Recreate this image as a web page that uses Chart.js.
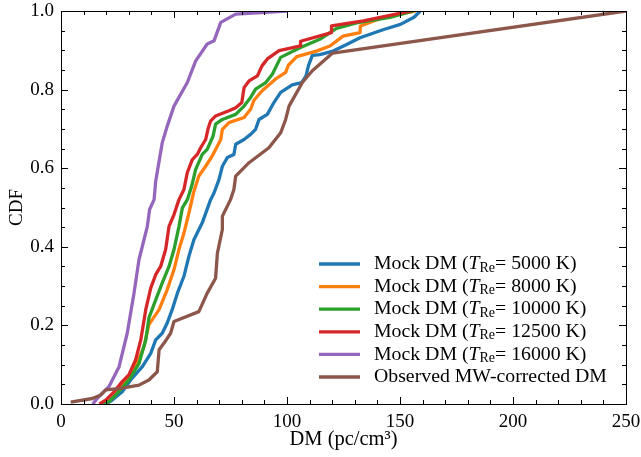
<!DOCTYPE html>
<html>
<head>
<meta charset="utf-8">
<script src="https://cdn.jsdelivr.net/npm/chart.js"></script>
<style>
  html, body { margin: 0; padding: 0; background: #fff; }
</style>
</head>
<body>
<canvas id="cdfChart" width="641" height="457"></canvas>
<script>
// values (DM in pc/cm^3, cumulative fraction)
const dm5000  = [20, 22.7, 27.1, 30.8, 36, 39.7, 41.9, 44.8, 47, 49.2, 51.5, 54.4, 56.6, 58.8, 62.5, 66.2, 67.7, 69.9, 71.4, 73.6, 76.5, 77.3, 81, 83.9, 86.1, 87.6, 91.3, 94.2, 97.2, 102.3, 106.5, 108.4, 109.5, 111.2, 114.5, 120.4, 126.4, 132.3, 142.8, 150.2, 156.2, 159];
const cdf5000 = [0, 0.010, 0.031, 0.061, 0.095, 0.129, 0.163, 0.180, 0.206, 0.240, 0.282, 0.325, 0.376, 0.418, 0.461, 0.520, 0.537, 0.571, 0.605, 0.627, 0.635, 0.661, 0.673, 0.686, 0.699, 0.724, 0.737, 0.767, 0.793, 0.812, 0.818, 0.835, 0.861, 0.887, 0.889, 0.898, 0.915, 0.932, 0.953, 0.966, 0.984, 1.0];

const dm8000  = [19, 20.9, 23.5, 28.6, 33, 36.7, 38.9, 43.4, 47, 50, 52.2, 54.4, 56.6, 58.8, 61, 64, 66.9, 70.7, 71.4, 74.3, 81, 83.9, 85.4, 89, 95, 99.4, 100.6, 104.3, 113, 119, 124.8, 132.3, 132.5, 142.8, 157];
const cdf8000 = [0, 0.006, 0.019, 0.057, 0.095, 0.146, 0.202, 0.240, 0.291, 0.342, 0.393, 0.435, 0.486, 0.541, 0.580, 0.605, 0.631, 0.673, 0.699, 0.716, 0.729, 0.750, 0.773, 0.797, 0.827, 0.844, 0.862, 0.884, 0.898, 0.911, 0.936, 0.945, 0.962, 0.984, 1.0];

const dm10000  = [18, 21.2, 24.9, 30, 34.5, 37.5, 38.9, 41.9, 44.8, 47.8, 50, 52.2, 53.7, 55.9, 57.8, 59.6, 62.5, 64.7, 67.3, 68.4, 71.4, 77.3, 81, 83.9, 86.1, 90.6, 93.5, 97.2, 105.5, 114.5, 121.9, 130.8, 145.6, 156];
const cdf10000 = [0, 0.006, 0.027, 0.061, 0.103, 0.163, 0.219, 0.265, 0.308, 0.350, 0.393, 0.452, 0.499, 0.520, 0.554, 0.597, 0.635, 0.648, 0.682, 0.712, 0.724, 0.737, 0.758, 0.780, 0.801, 0.818, 0.839, 0.882, 0.906, 0.928, 0.956, 0.970, 0.984, 1.0];

const dm12500  = [17, 19.8, 23.5, 27.1, 30, 33, 35.3, 37.5, 39.7, 41.9, 44.1, 46.3, 47.8, 50, 52.2, 54.4, 55.9, 58.1, 60.3, 61.8, 64, 65.2, 66.2, 68.4, 74.3, 77.3, 80, 81, 83.2, 86.9, 89, 91.3, 96.5, 106, 106, 119.7, 119.7, 133.8, 145.6, 155];
const cdf12500 = [0, 0.010, 0.031, 0.057, 0.074, 0.112, 0.163, 0.240, 0.295, 0.329, 0.350, 0.393, 0.452, 0.482, 0.520, 0.546, 0.589, 0.622, 0.635, 0.652, 0.673, 0.703, 0.720, 0.733, 0.746, 0.754, 0.767, 0.805, 0.822, 0.835, 0.861, 0.878, 0.899, 0.911, 0.923, 0.945, 0.962, 0.975, 0.989, 1.0];

const dm16000  = [14, 16.8, 21.2, 25.7, 29.3, 32.3, 34.5, 38.2, 39.2, 41.2, 41.9, 44.8, 47, 50, 55.9, 59.6, 64.7, 67.7, 70.7, 77.3, 100];
const cdf16000 = [0, 0.019, 0.044, 0.095, 0.180, 0.282, 0.367, 0.452, 0.495, 0.520, 0.567, 0.665, 0.707, 0.758, 0.818, 0.873, 0.916, 0.924, 0.971, 0.992, 1.0];

const dmObs  = [4.3, 13.9, 17.6, 19.8, 26.4, 34.5, 38.9, 42.6, 43.4, 45.6, 48.5, 50, 61, 64.7, 68.4, 69.2, 71.4, 71.4, 75, 76.5, 77.3, 83.2, 92, 97.2, 99.4, 100.9, 106.8, 111.2, 120.2, 250];
const cdfObs = [0.005, 0.014, 0.023, 0.036, 0.040, 0.048, 0.061, 0.082, 0.138, 0.155, 0.180, 0.210, 0.235, 0.282, 0.320, 0.384, 0.444, 0.478, 0.520, 0.546, 0.580, 0.614, 0.652, 0.690, 0.724, 0.758, 0.818, 0.848, 0.893, 1.0];

const tempsRe = [5000, 8000, 10000, 12500, 16000];
const obsLabel = 'Observed MW-corrected DM';
const colors = ['#1f77b4', '#ff7f0e', '#2ca02c', '#d62728', '#9467bd', '#8c564b'];

const xTicks = [0, 50, 100, 150, 200, 250];
const yTicks = [0.0, 0.2, 0.4, 0.6, 0.8, 1.0];

const serif = '"Liberation Serif", "Times New Roman", serif';

function pts(xs, ys) {
    return xs.map((x, i) => ({ x: x, y: ys[i] }));
}

const series = [
    pts(dm5000, cdf5000),
    pts(dm8000, cdf8000),
    pts(dm10000, cdf10000),
    pts(dm12500, cdf12500),
    pts(dm16000, cdf16000),
    pts(dmObs, cdfObs)
];

// inward ticks on all four sides + box, matplotlib style
const frameTicks = {
    id: 'frameTicks',
    afterDatasetsDraw(chart) {
        const { ctx, chartArea: a, scales: { x, y } } = chart;
        ctx.save();
        ctx.strokeStyle = '#000';
        ctx.lineWidth = 1;
        ctx.beginPath();
        for (let v = 0; v <= 250; v += 10) {
            const px = Math.round(x.getPixelForValue(v)) + 0.5;
            const len = v % 50 === 0 ? 7 : 4;
            ctx.moveTo(px, a.bottom); ctx.lineTo(px, a.bottom - len);
            ctx.moveTo(px, a.top); ctx.lineTo(px, a.top + len);
        }
        for (let k = 0; k <= 20; k++) {
            const py = Math.round(y.getPixelForValue(k * 0.05)) + 0.5;
            const len = k % 4 === 0 ? 7 : 4;
            ctx.moveTo(a.left, py); ctx.lineTo(a.left + len, py);
            ctx.moveTo(a.right, py); ctx.lineTo(a.right - len, py);
        }
        ctx.stroke();
        ctx.strokeRect(Math.round(a.left) + 0.5, Math.round(a.top) + 0.5,
            Math.round(a.right - a.left), Math.round(a.bottom - a.top));
        ctx.restore();
    }
};

// legend with italic T and subscript "Re"
const mathLegend = {
    id: 'mathLegend',
    afterDraw(chart) {
        const { ctx, chartArea: a } = chart;
        const x0 = a.left + 258, x1 = a.left + 299, tx = a.left + 313;
        const top = 264, step = 22.6;
        const fs = 19.8;
        ctx.save();
        ctx.textBaseline = 'middle';
        ctx.fillStyle = '#000';
        for (let i = 0; i < 6; i++) {
            const yy = top + i * step;
            ctx.strokeStyle = colors[i];
            ctx.lineWidth = 3.3;
            ctx.beginPath();
            ctx.moveTo(x0, yy); ctx.lineTo(x1, yy);
            ctx.stroke();
            let cx = tx;
            const put = (s, font, dy) => {
                ctx.font = font;
                ctx.fillText(s, cx, yy + dy);
                cx += ctx.measureText(s).width;
            };
            if (i < 5) {
                put('Mock DM (', fs + 'px ' + serif, 0);
                put('T', 'italic ' + fs + 'px ' + serif, 0);
                put('Re', '14px ' + serif, 4);
                put('= ' + tempsRe[i] + ' K)', fs + 'px ' + serif, 0);
            } else {
                put(obsLabel, fs + 'px ' + serif, 0);
            }
        }
        ctx.restore();
    }
};

const noOverflow = s => { s.paddingTop = 0; s.paddingBottom = 0; s.paddingLeft = 0; s.paddingRight = 0; };

new Chart(document.getElementById('cdfChart'), {
    type: 'line',
    data: {
        datasets: series.map((d, i) => ({
            data: d,
            borderColor: colors[i],
            backgroundColor: colors[i],
            borderWidth: 3.3,
            borderJoinStyle: 'round',
            pointRadius: 0,
            tension: 0,
            fill: false,
            order: 5 - i
        }))
    },
    options: {
        responsive: false,
        devicePixelRatio: 1,
        animation: false,
        layout: { padding: { top: 11, right: 15, left: 0, bottom: 0 } },
        plugins: {
            legend: { display: false },
            tooltip: { enabled: false }
        },
        scales: {
            x: {
                type: 'linear',
                min: 0,
                max: 250,
                afterBuildTicks: s => { s.ticks = xTicks.map(v => ({ value: v })); },
                afterFit: s => { s.height = 53; noOverflow(s); },
                grid: { display: false, drawTicks: false },
                border: { display: true, color: '#000' },
                ticks: { color: '#000', padding: 7, maxRotation: 0, font: { family: serif, size: 19 } },
                title: {
                    display: true,
                    text: 'DM (pc/cm³)',
                    color: '#000',
                    font: { family: serif, size: 20.5 },
                    padding: { top: 2, bottom: 5 }
                }
            },
            y: {
                min: 0,
                max: 1,
                afterBuildTicks: s => { s.ticks = yTicks.map(v => ({ value: v })); },
                afterFit: s => { s.width = 61; noOverflow(s); },
                grid: { display: false, drawTicks: false },
                border: { display: true, color: '#000' },
                ticks: {
                    color: '#000',
                    padding: 7,
                    font: { family: serif, size: 19 },
                    callback: v => v.toFixed(1)
                },
                title: {
                    display: true,
                    text: 'CDF',
                    color: '#000',
                    font: { family: serif, size: 19 },
                    padding: { top: 6, bottom: 0 }
                }
            }
        }
    },
    plugins: [frameTicks, mathLegend]
});
</script>
</body>
</html>
